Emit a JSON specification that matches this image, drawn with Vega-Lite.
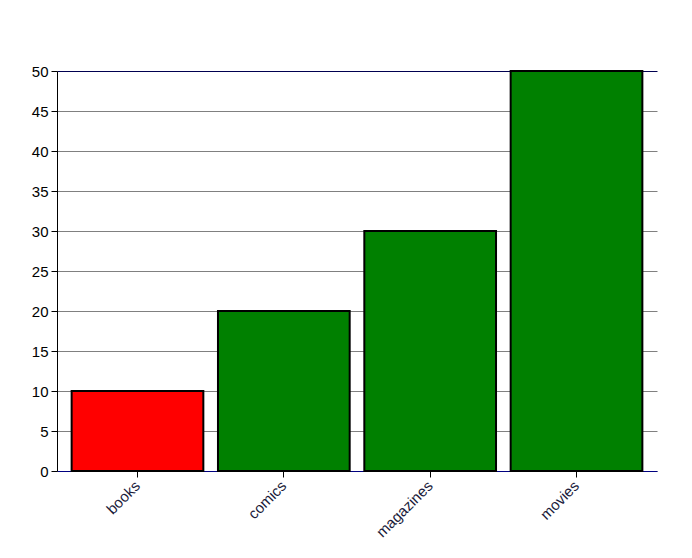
{
  "$schema": "https://vega.github.io/schema/vega-lite/v6.json",
  "width": 600,
  "height": 400,
  "autosize": {"type": "none"},
  "padding": {"left": 57, "top": 71, "right": 35, "bottom": 87},
  "background": "white",
  "config": {"view": {"stroke": null}, "font": "Liberation Sans"},
  "data": {"values": [
    {"category": "books", "value": 10, "color": "red"},
    {"category": "comics", "value": 20, "color": "green"},
    {"category": "magazines", "value": 30, "color": "green"},
    {"category": "movies", "value": 50, "color": "green"}
  ]},
  "mark": {"type": "bar", "stroke": "black", "strokeWidth": 2},
  "encoding": {
    "x": {
      "field": "category", "type": "nominal", "sort": null,
      "scale": {"paddingInner": 0.1, "paddingOuter": 0.1},
      "axis": {
        "title": null, "labelAngle": -45, "labelAlign": "right", "labelBaseline": "middle",
        "labelFontSize": 15, "labelColor": "#1a1a3a", "labelPadding": 6,
        "domainColor": "#000080", "domainWidth": 1, "labelOverlap": false,
        "tickColor": "black", "tickSize": 6, "grid": false
      }
    },
    "y": {
      "field": "value", "type": "quantitative",
      "scale": {"domain": [0, 50], "nice": false},
      "axis": {
        "title": null, "values": [0,5,10,15,20,25,30,35,40,45,50],
        "labelOverlap": false, "labelFlush": false,
        "labelFontSize": 15, "labelColor": "black", "labelPadding": 3,
        "domainColor": "black", "tickColor": "black", "tickSize": 6,
        "grid": true,
        "gridColor": {"condition": {"test": "datum.value === 50", "value": "#000050"}, "value": "#808080"},
        "gridOpacity": 1
      }
    },
    "fill": {"field": "color", "type": "nominal", "scale": null, "legend": null}
  }
}
